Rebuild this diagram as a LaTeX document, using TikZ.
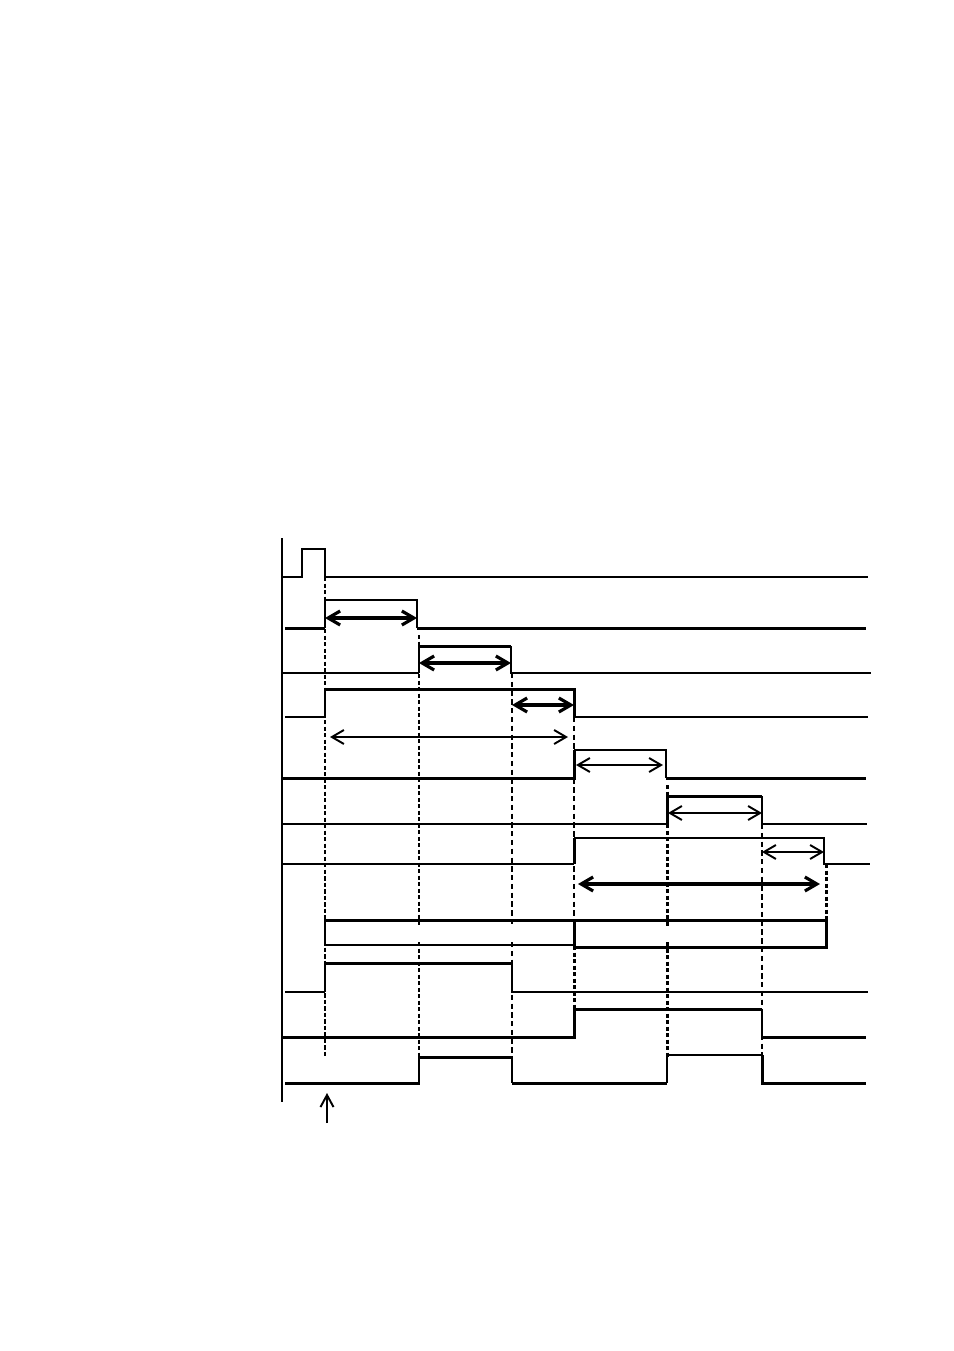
\documentclass[tikz,border=0pt]{standalone}
\usetikzlibrary{arrows.meta}

\begin{document}
\begin{tikzpicture}[x=0.2mm,y=-0.2mm,
    lo/.style={line width=0.8pt},
    hi/.style={line width=1.7pt},
    guide/.style={line width=1.7pt,dash pattern=on 2.5pt off 1.2pt},
    guidethin/.style={line width=0.8pt,dash pattern=on 3pt off 2pt},
    span/.style={line width=1.1pt,{Straight Barb[length=2.4mm,width=2.8mm]}-{Straight Barb[length=2.4mm,width=2.8mm]}},
    spanb/.style={span,line width=1.8pt}]
  \useasboundingbox (0,0) rectangle (954,1351);

  % axis
  \draw[line width=1.2pt] (282,538) -- (282,1102);

  % signals
  \draw[lo] (281,577) -- (302,577) -- (302,549) -- (325,549) -- (325,577) -- (868,577);

  \draw[hi] (285,628) -- (325,628);
  \draw[lo] (325,628) -- (325,600) -- (417,600) -- (417,628);
  \draw[hi] (417,628) -- (866,628);

  \draw[lo] (282,673) -- (419,673);
  \draw[hi] (419,673) -- (419,646) -- (511,646);
  \draw[lo] (511,646) -- (511,673) -- (871,673);

  \draw[lo] (285,717) -- (325,717);
  \draw[hi] (325,717) -- (325,689) -- (574,689) -- (574,717);
  \draw[lo] (574,717) -- (868,717);

  \draw[hi] (282,778) -- (574,778) -- (574,750);
  \draw[lo] (574,750) -- (666,750) -- (666,778);
  \draw[hi] (666,778) -- (866,778);

  \draw[lo] (283,824) -- (667,824);
  \draw[hi] (667,824) -- (667,796) -- (762,796);
  \draw[lo] (762,796) -- (762,824) -- (867,824);

  \draw[lo] (281,864) -- (574,864);
  \draw[hi] (574,864) -- (574,838);
  \draw[lo] (574,838) -- (824,838) -- (824,864) -- (870,864);

  \draw[hi] (325,945) -- (325,920) -- (826,920) -- (826,947) -- (574,947) -- (574,920);
  \draw[lo] (325,945) -- (574,945);

  \draw[lo] (285,992) -- (325,992);
  \draw[hi] (325,992) -- (325,963) -- (512,963);
  \draw[lo] (512,963) -- (512,992) -- (868,992);

  \draw[hi] (282,1037) -- (574,1037) -- (574,1009) -- (762,1009);
  \draw[lo] (762,1009) -- (762,1037);
  \draw[hi] (762,1037) -- (866,1037);

  \draw[hi] (285,1083) -- (419,1083) -- (419,1057) -- (512,1057);
  \draw[lo] (512,1057) -- (512,1083);
  \draw[hi] (512,1083) -- (667,1083);
  \draw[lo] (667,1083) -- (667,1055) -- (762,1055);
  \draw[hi] (762,1055) -- (762,1083) -- (866,1083);

  % guides
  \draw[guide] (325,577) -- (325,1056);
  \draw[guide] (419,635) -- (419,927);
  \draw[guide] (419,942) -- (419,1057);
  \draw[guidethin,line width=1.1pt] (512,673) -- (512,927);
  \draw[guidethin,line width=1.1pt] (512,942) -- (512,1057);
  \draw[guidethin] (574,717) -- (574,920);
  \draw[guide] (574,920) -- (574,1037);
  \draw[guide] (667,785) -- (667,927);
  \draw[guide] (667,942) -- (667,1057);
  \draw[guidethin] (762,824) -- (762,1057);
  \draw[guide] (826,864) -- (826,925);

  % spans
  \coordinate (s1a) at (325,618);  \coordinate (s1b) at (417,618);
  \coordinate (s2a) at (419,663);  \coordinate (s2b) at (511,663);
  \coordinate (s3a) at (512,705);  \coordinate (s3b) at (574,705);
  \coordinate (s4a) at (330,737);  \coordinate (s4b) at (568,737);
  \coordinate (s5a) at (576,765);  \coordinate (s5b) at (663,765);
  \coordinate (s6a) at (668,813);  \coordinate (s6b) at (762,813);
  \coordinate (s7a) at (762,852);  \coordinate (s7b) at (824,852);
  \coordinate (s8a) at (578,884);  \coordinate (s8b) at (820,884);
  \coordinate (trig) at (327,1123); \coordinate (trigtip) at (327,1093);

  \draw[spanb] (s1a) -- (s1b);
  \draw[spanb] (s2a) -- (s2b);
  \draw[spanb] (s3a) -- (s3b);
  \draw[span] (s4a) -- (s4b);
  \draw[span] (s5a) -- (s5b);
  \draw[span] (s6a) -- (s6b);
  \draw[span] (s7a) -- (s7b);
  \draw[spanb] (s8a) -- (s8b);
  \draw[line width=1.1pt,-{Straight Barb[length=2.4mm,width=2.6mm]}] (trig) -- (trigtip);
\end{tikzpicture}
\end{document}
